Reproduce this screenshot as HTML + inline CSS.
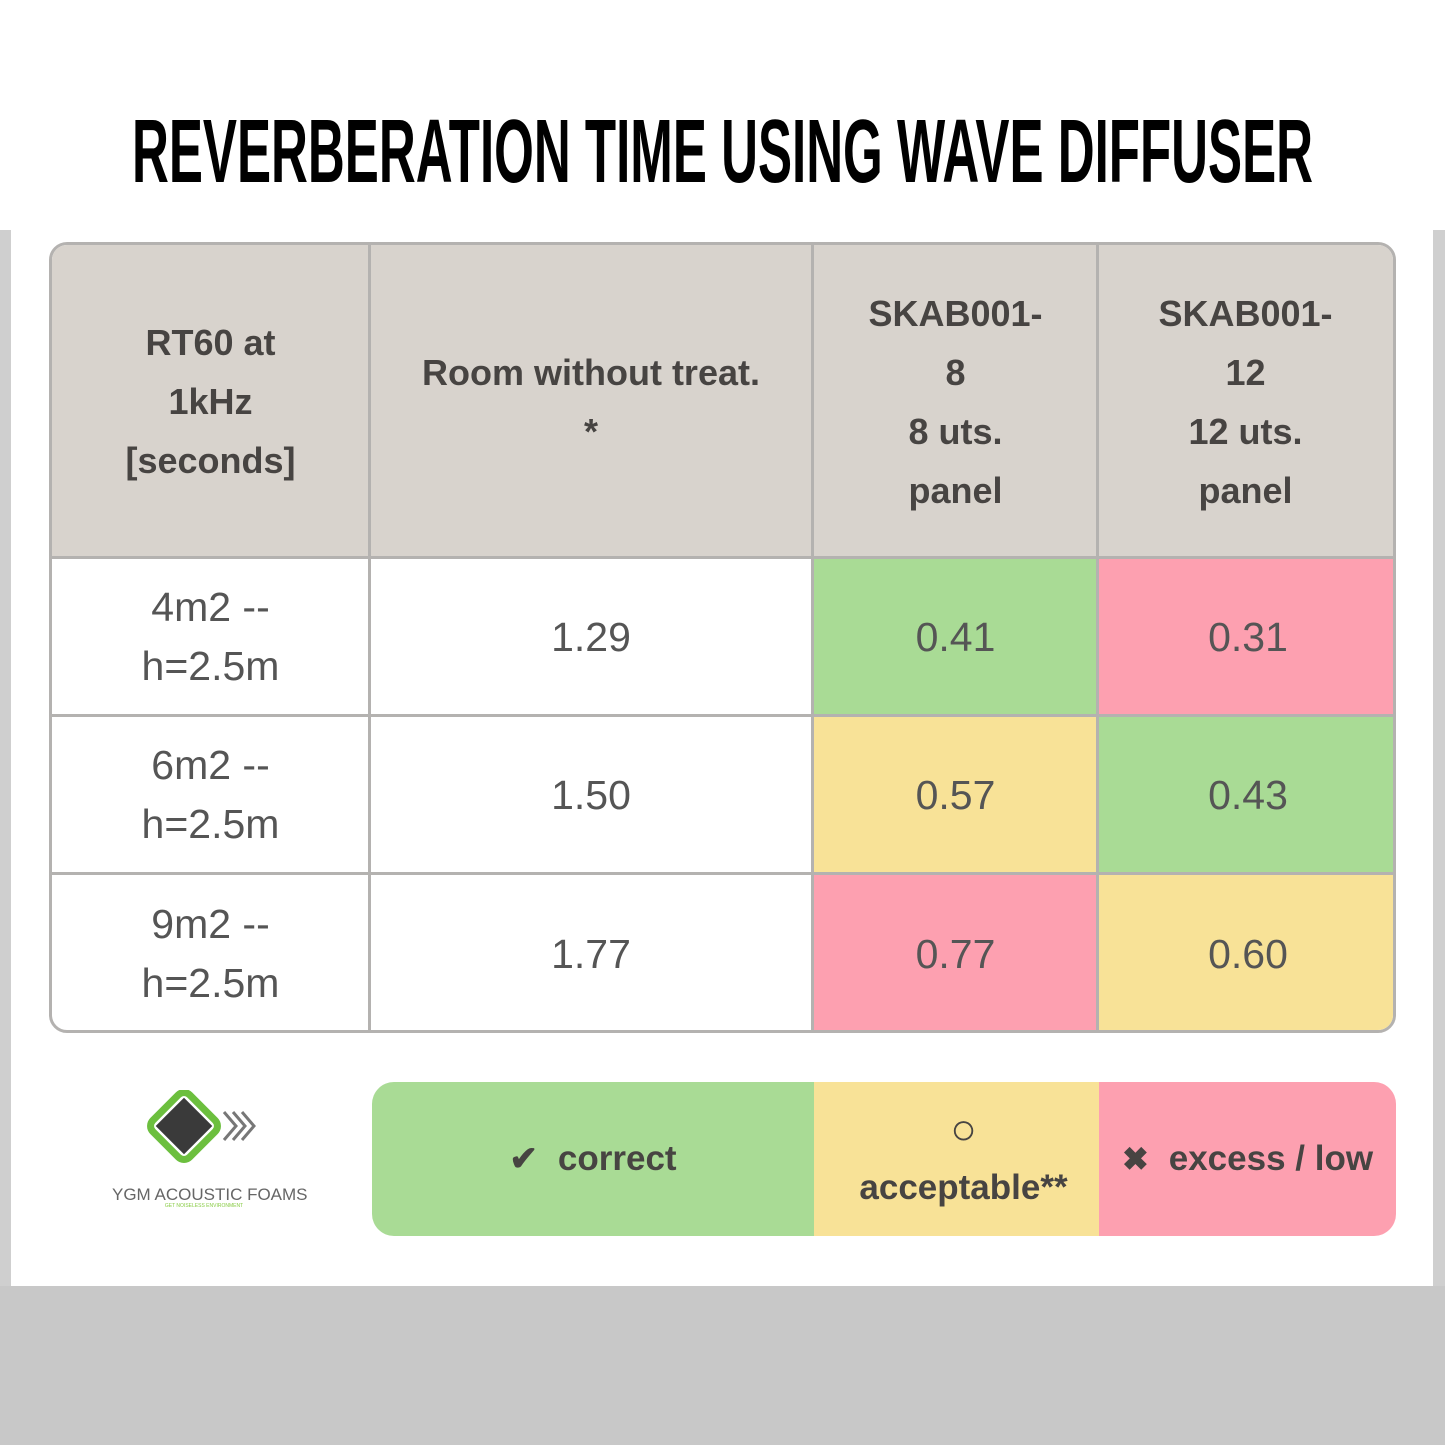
<!DOCTYPE html>
<html><head><meta charset="utf-8"><style>
*{margin:0;padding:0;box-sizing:border-box}
body{width:1445px;height:1445px;position:relative;background:#fff;overflow:hidden;font-family:"Liberation Sans",sans-serif}
.abs{position:absolute}
.cell{position:absolute;display:flex;align-items:center;justify-content:center;text-align:center}
.h{background:#d8d3cd;color:#474442;font-weight:bold;font-size:36px;line-height:59px}
.d{color:#555;font-size:41px;line-height:59px}
.vl{position:absolute;width:3px;background:#b4b2b0}
.hl{position:absolute;height:3px;background:#b4b2b0}
.lg{position:absolute;display:flex;align-items:center;justify-content:center;text-align:center;color:#474442;font-weight:bold;font-size:35px}
</style></head><body>
<svg class="abs" style="left:0;top:0" width="1445" height="230"><text x="132" y="182" textLength="1181" lengthAdjust="spacingAndGlyphs" font-family="Liberation Sans Narrow, Liberation Sans, sans-serif" font-weight="bold" font-size="90" fill="#000">REVERBERATION TIME USING WAVE DIFFUSER</text></svg>
<div class="abs" style="left:0;top:230px;width:11px;height:1056px;background:#cfcfcf"></div>
<div class="abs" style="left:1433px;top:230px;width:12px;height:1056px;background:#cfcfcf"></div>
<div class="abs" style="left:0;top:1286px;width:1445px;height:159px;background:#c8c8c8"></div>

<div class="abs" style="left:49px;top:242px;width:1347px;height:791px;border:3px solid #b4b2b0;border-radius:18px;overflow:hidden;background:#fff">
<div class="cell h" style="left:0;top:0;width:317px;height:313px">RT60 at<br>1kHz<br>[seconds]</div>
<div class="cell h" style="left:317px;top:0;width:444px;height:313px">Room without treat.<br>*</div>
<div class="cell h" style="left:761px;top:0;width:285px;height:313px">SKAB001-<br>8<br>8 uts.<br>panel</div>
<div class="cell h" style="left:1046px;top:0;width:295px;height:313px">SKAB001-<br>12<br>12 uts.<br>panel</div>

<div class="cell d" style="left:0;top:313px;width:317px;height:158px">4m2 --<br>h=2.5m</div>
<div class="cell d" style="left:317px;top:313px;width:444px;height:158px">1.29</div>
<div class="cell d" style="left:761px;top:313px;width:285px;height:158px;background:#a9db95">0.41</div>
<div class="cell d" style="left:1046px;top:313px;width:300px;height:158px;background:#fda0b0">0.31</div>

<div class="cell d" style="left:0;top:471px;width:317px;height:158px">6m2 --<br>h=2.5m</div>
<div class="cell d" style="left:317px;top:471px;width:444px;height:158px">1.50</div>
<div class="cell d" style="left:761px;top:471px;width:285px;height:158px;background:#f8e297">0.57</div>
<div class="cell d" style="left:1046px;top:471px;width:300px;height:158px;background:#a9db95">0.43</div>

<div class="cell d" style="left:0;top:629px;width:317px;height:160px">9m2 --<br>h=2.5m</div>
<div class="cell d" style="left:317px;top:629px;width:444px;height:160px">1.77</div>
<div class="cell d" style="left:761px;top:629px;width:285px;height:160px;background:#fda0b0">0.77</div>
<div class="cell d" style="left:1046px;top:629px;width:300px;height:160px;background:#f8e297">0.60</div>

<div class="vl" style="left:316px;top:0;height:791px"></div>
<div class="vl" style="left:759px;top:0;height:791px"></div>
<div class="vl" style="left:1044px;top:0;height:791px"></div>
<div class="hl" style="left:0;top:311px;width:1347px"></div>
<div class="hl" style="left:0;top:469px;width:1347px"></div>
<div class="hl" style="left:0;top:627px;width:1347px"></div>
</div>

<div class="abs" style="left:372px;top:1082px;width:1024px;height:154px;border-radius:22px;overflow:hidden">
<div class="lg" style="left:0;top:0;width:442px;height:154px;background:#a9db95"><span style="font-size:34px;margin-right:20px">✔</span>correct</div>
<div class="lg" style="left:442px;top:0;width:285px;height:154px;background:#f8e297;padding-left:14px"><div style="line-height:58px"><div style="font-size:44px;line-height:58px">○</div><div>acceptable**</div></div></div>
<div class="lg" style="left:727px;top:0;width:297px;height:154px;background:#fda0b0"><span style="font-size:32px;margin-right:20px">✖</span>excess / low</div>
</div>

<svg class="abs" style="left:140px;top:1090px" width="130" height="90">
<rect x="18" y="10" width="52" height="52" rx="8" transform="rotate(45 44 36)" fill="#fff" stroke="#6cbf3e" stroke-width="7"/>
<rect x="24" y="16" width="40" height="40" transform="rotate(45 44 36)" fill="#3a3a3a"/>
<path d="M84 22 L96 36 L84 50 M93 22 L105 36 L93 50 M102 22 L114 36 L102 50" fill="none" stroke="#777" stroke-width="3"/>
</svg>
<div class="abs" style="left:112px;top:1185px;width:184px;text-align:center;font-size:17px;color:#666;white-space:nowrap">YGM ACOUSTIC FOAMS</div>
<div class="abs" style="left:112px;top:1203px;width:184px;text-align:center;font-size:5px;color:#8c4;white-space:nowrap">GET NOISELESS ENVIRONMENT</div>
</body></html>
